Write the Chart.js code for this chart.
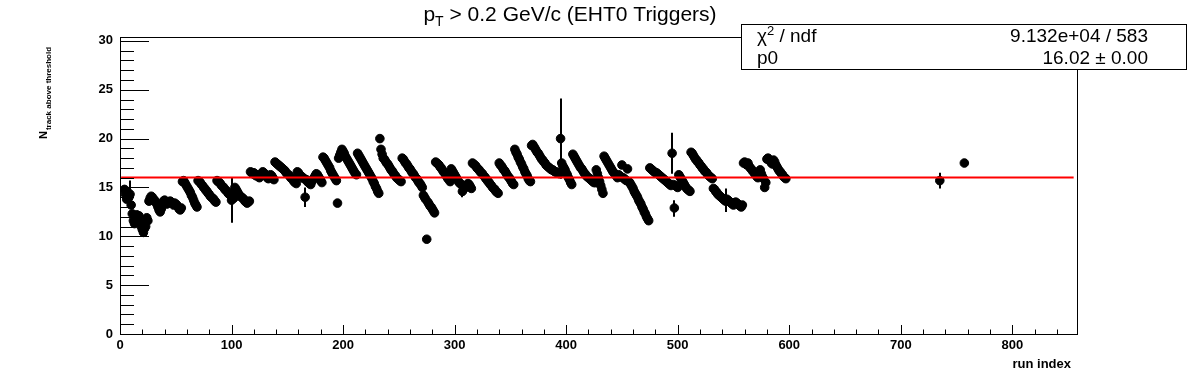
<!DOCTYPE html>
<html>
<head>
<meta charset="utf-8">
<script src="https://cdn.jsdelivr.net/npm/chart.js@4/dist/chart.umd.min.js"></script>
<style>
  html, body { margin: 0; padding: 0; background: #fff; }
  #c { display: block; }
</style>
</head>
<body>
<canvas id="c" width="1196" height="372"></canvas>
<script>
// first run index of each block of consecutive runs
const fillStart = [4, 26, 56, 70, 87, 117, 139, 159, 182, 196, 213, 233, 237, 253, 272, 283, 297,
  316, 340, 354, 369, 396, 406, 427, 434, 447, 461, 475, 501, 512, 532, 559, 578];

// N_track above threshold, one list per block
const nTrackByFill = [
  [14.8,14.3,13.8,14.5,14.0,14.3,13.2,12.3,11.6,11.3,12.0,12.2,11.8,12.1,11.4,11.0,10.7,10.4,10.8,11.0,11.9,11.6],
  [13.6,13.9,14.1,14.0,13.8,13.7,13.5,13.3,13.0,12.7,12.5,12.8,13.2,13.6,13.7,13.5,13.3,13.4,13.5,13.6,13.5,13.4,13.2,13.4,13.3,13.2,13.0,12.8,12.7,12.9],
  [15.6,15.7,15.5,15.3,15.1,14.9,14.7,14.5,14.2,14.0,13.7,13.4,13.2,13.0],
  [15.7,15.6,15.5,15.3,15.2,15.0,14.9,14.7,14.6,14.4,14.3,14.1,14.0,13.9,13.8,13.6,13.5],
  [15.7,15.6,15.5,15.4,15.2,15.1,15.0,14.8,14.7,14.6,14.4,14.3,14.2,13.7,14.0,13.9,15.0,14.8,14.6,14.4,14.2,14.1,14.0,13.9,13.8,13.6,13.5,13.4,13.5,13.6],
  [16.6,16.5,16.4,16.5,16.3,16.2,16.3,16.1,16.0,16.2,16.4,16.6,16.5,16.3,16.2,16.0,15.9,16.1,16.3,16.2,16.0,15.8],
  [17.6,17.5,17.4,17.3,17.2,17.1,17.0,16.9,16.8,16.7,16.5,16.4,16.3,16.2,16.0,15.9,15.8,15.6,15.5,15.4],
  [16.6,16.5,16.3,16.2,16.1,16.0,15.9,14.0,15.8,15.6,15.5,15.4,15.3,15.6,15.8,16.0,16.2,16.4,16.3,16.1,15.9,15.7,15.5],
  [18.1,18.0,17.8,17.6,17.4,17.2,17.0,16.7,16.5,16.3,16.1,15.9,15.7,13.4],
  [18.0,18.3,18.6,18.9,18.7,18.5,18.2,18.0,17.8,17.6,17.4,17.2,17.0,16.8,16.6,16.4,16.3],
  [18.5,18.3,18.1,17.9,17.7,17.5,17.3,17.1,16.9,16.7,16.5,16.3,16.1,15.9,15.6,15.4,15.1,14.9,14.6,14.4],
  [20.0,18.9,18.4,18.0],
  [17.9,17.7,17.5,17.4,17.2,17.0,16.8,16.7,16.5,16.3,16.2,16.0,15.9,15.8,15.7,15.6],
  [18.0,17.9,17.7,17.5,17.4,17.2,17.0,16.9,16.7,16.5,16.4,16.2,16.0,15.9,15.7,15.5,15.4,15.2,15.0],
  [14.2,14.0,13.8,9.7,13.5,13.3,13.1,13.0,12.8,12.6,12.4],
  [17.6,17.5,17.4,17.3,17.1,17.0,16.8,16.6,16.5,16.3,16.1,15.9,15.8,15.6],
  [16.9,16.7,16.5,16.3,16.1,15.9,15.7,15.5,15.4,15.3,14.6,15.2,15.1,15.0,15.2,15.4,15.3,15.1,14.9],
  [17.5,17.4,17.3,17.2,17.0,16.9,16.8,16.6,16.5,16.4,16.2,16.1,15.9,15.8,15.6,15.5,15.3,15.2,15.0,14.9,14.8,14.6,14.5,14.4],
  [17.5,17.3,17.2,17.0,16.8,16.7,16.5,16.3,16.1,16.0,15.8,15.6,15.4,15.3],
  [18.9,18.6,18.4,18.1,17.9,17.6,17.4,17.1,16.9,16.6,16.4,16.2,15.9,15.7,15.6],
  [19.3,19.4,19.2,19.0,18.8,18.6,18.5,18.3,18.1,17.9,17.8,17.6,17.5,17.3,17.2,17.1,17.0,16.9,16.8,16.8,16.7,16.6,16.6,16.5,16.5,16.4,20.0],
  [17.5,17.2,17.0,16.8,16.5,16.3,16.0,15.8,15.5,15.3],
  [18.4,18.2,18.0,17.8,17.6,17.4,17.2,17.0,16.9,16.7,16.5,16.4,16.2,16.1,16.0,15.9,15.8,15.7,15.6,15.5,15.5],
  [16.8,16.4,16.0,15.6,15.2,14.8,14.4],
  [18.2,18.0,17.8,17.6,17.4,17.2,17.0,16.8,16.6,16.5,16.3,16.2,16.0],
  [16.3,16.2,16.1,17.3,16.0,15.9,15.8,15.7,16.9,15.6,15.5,15.3,15.1,14.9],
  [14.6,14.4,14.2,14.0,13.7,13.5,13.3,13.0,12.8,12.5,12.3,12.0,11.8,11.6],
  [17.0,16.9,16.8,16.7,16.6,16.5,16.5,16.4,16.3,16.2,16.1,16.0,15.9,15.8,15.7,15.6,15.5,15.4,15.3,15.2,18.5,15.3,12.9,15.2,15.1,15.0],
  [16.3,16.1,15.9,15.7,15.5,15.3,15.1,14.9,14.8,14.7,14.6],
  [18.6,18.5,18.3,18.1,17.9,17.8,17.6,17.5,17.3,17.2,17.0,16.9,16.7,16.6,16.5,16.3,16.2,16.1,16.0,15.9],
  [14.9,14.8,14.6,14.5,14.3,14.2,14.1,14.0,13.9,13.8,13.7,13.6,13.8,13.7,13.6,13.5,13.4,13.3,13.2,13.4,13.5,13.4,13.3,13.2,13.1,13.0,13.2],
  [17.5,17.6,17.4,17.3,17.5,17.2,17.0,16.9,16.7,16.6,16.4,16.3,16.1,16.0,16.5,16.8,16.4,16.1,15.9],
  [15.0,15.5,17.9,18.0,17.8,17.7,17.5,17.4,17.8,17.6,17.3,17.1,16.9,16.7,16.6,16.4,16.3,16.1,16.0,15.9]
];

// isolated late runs
const lateRuns = [735, 757];
const lateValues = [15.7, 17.5];

// runs whose error bar sticks out of the marker
const errRuns = [9, 23, 100, 166, 307, 395, 495, 497, 543, 735];
const errLow  = [13.0, 10.0, 11.4, 13.0, 14.0, 15.9, 16.4, 12.0, 12.5, 14.9];
const errHigh = [15.7, 12.0, 16.0, 15.0, 15.2, 24.1, 20.6, 13.7, 14.9, 16.5];

// pol0 fit
const fitP0 = 16.02;
const fitRange = [1, 855];

const xTicks = [0, 100, 200, 300, 400, 500, 600, 700, 800];
const yTicks = [0, 5, 10, 15, 20, 25, 30];

const points = [];
fillStart.forEach((start, k) => {
  nTrackByFill[k].forEach((v, j) => points.push({ x: start + j, y: v }));
});
lateRuns.forEach((r, k) => points.push({ x: r, y: lateValues[k] }));

const FONT = '"Liberation Sans", Arial, sans-serif';

const rootStyle = {
  id: 'rootStyle',
  beforeDatasetsDraw(chart) {
    const { ctx, scales: { x, y } } = chart;
    ctx.save();
    ctx.strokeStyle = '#000';
    ctx.lineWidth = 2;
    errRuns.forEach((r, k) => {
      const px = Math.round(x.getPixelForValue(r));
      ctx.beginPath();
      ctx.moveTo(px, y.getPixelForValue(errLow[k]));
      ctx.lineTo(px, y.getPixelForValue(errHigh[k]));
      ctx.stroke();
    });
    ctx.restore();
  },
  afterDraw(chart) {
    const { ctx, chartArea: a, scales: { x, y } } = chart;
    ctx.save();
    ctx.strokeStyle = '#000';
    ctx.lineWidth = 1;
    ctx.strokeRect(a.left + 0.5, a.top + 0.5, a.right - a.left, a.bottom - a.top);

    // ticks drawn inside the frame, ROOT style
    ctx.beginPath();
    for (let v = 0; v <= y.max; v += 1) {
      const py = Math.round(y.getPixelForValue(v)) + 0.5;
      const len = v % 5 === 0 ? 29 : 14;
      ctx.moveTo(a.left, py); ctx.lineTo(a.left + len, py);
    }
    for (let v = 0; v <= x.max; v += 20) {
      const px = Math.round(x.getPixelForValue(v)) + 0.5;
      const len = v % 100 === 0 ? 9 : 4.5;
      ctx.moveTo(px, a.bottom); ctx.lineTo(px, a.bottom - len);
    }
    ctx.stroke();

    // title, centred
    ctx.fillStyle = '#000';
    ctx.textBaseline = 'alphabetic';
    ctx.textAlign = 'left';
    const big = '21px ' + FONT, small = '14px ' + FONT;
    const rest = ' > 0.2 GeV/c (EHT0 Triggers)';
    ctx.font = big;
    const wP = ctx.measureText('p').width, wRest = ctx.measureText(rest).width;
    ctx.font = small;
    const wT = ctx.measureText('T').width;
    let tx = 570 - (wP + wT + wRest) / 2;
    ctx.font = big;
    ctx.fillText('p', tx, 21);
    tx += wP;
    ctx.font = small;
    ctx.fillText('T', tx, 26);
    tx += wT;
    ctx.font = big;
    ctx.fillText(rest, tx, 21);

    // stats box
    ctx.fillStyle = '#fff';
    ctx.fillRect(741, 24, 445, 45);
    ctx.strokeRect(741.5, 24.5, 445, 45);
    ctx.fillStyle = '#000';
    ctx.font = '19px ' + FONT;
    ctx.fillText('\u03c7', 757, 42);
    let sx = 757 + ctx.measureText('\u03c7').width;
    ctx.font = '13px ' + FONT;
    ctx.fillText('2', sx, 35);
    sx += ctx.measureText('2').width;
    ctx.font = '19px ' + FONT;
    ctx.fillText(' / ndf', sx, 42);
    ctx.fillText('p0', 757, 64);
    ctx.textAlign = 'right';
    ctx.fillText('9.132e+04 / 583', 1148, 42);
    ctx.fillText(fitP0.toFixed(2) + ' \u00b1 0.00', 1148, 64);

    // x axis title
    ctx.font = 'bold 13px ' + FONT;
    ctx.fillText('run index', 1071, 368);

    // y axis title, rotated
    ctx.translate(47, 139);
    ctx.rotate(-Math.PI / 2);
    ctx.textAlign = 'left';
    ctx.font = 'bold 11px ' + FONT;
    ctx.fillText('N', 0, 0);
    const nw = ctx.measureText('N').width;
    ctx.font = 'bold 8px ' + FONT;
    ctx.fillText('track above threshold', nw + 1, 4);
    ctx.restore();
  }
};

new Chart(document.getElementById('c'), {
  data: {
    datasets: [
      {
        type: 'line',
        data: fitRange.map(r => ({ x: r, y: fitP0 })),
        borderColor: '#ff0000',
        borderWidth: 2,
        pointRadius: 0,
        order: 0
      },
      {
        type: 'scatter',
        data: points,
        backgroundColor: '#000',
        borderColor: '#000',
        borderWidth: 1,
        pointRadius: 4.3,
        order: 1
      }
    ]
  },
  options: {
    responsive: false,
    animation: false,
    devicePixelRatio: 1,
    layout: { padding: { top: 37, right: 119, left: 0, bottom: 0 } },
    plugins: { legend: { display: false }, tooltip: { enabled: false } },
    scales: {
      x: {
        type: 'linear', min: 0, max: 858,
        grid: { display: false, drawTicks: false },
        border: { display: false },
        ticks: { color: '#000', padding: 4, autoSkip: false, maxRotation: 0,
                 font: { family: FONT, size: 13, weight: 'bold' } },
        afterBuildTicks: s => { s.ticks = xTicks.map(v => ({ value: v })); },
        afterFit: s => { s.height = 38; }
      },
      y: {
        type: 'linear', min: 0, max: 30.4,
        grid: { display: false, drawTicks: false },
        border: { display: false },
        ticks: { color: '#000', padding: 7,
                 font: { family: FONT, size: 13, weight: 'bold' } },
        afterBuildTicks: s => { s.ticks = yTicks.map(v => ({ value: v })); },
        afterFit: s => { s.width = 120; }
      }
    }
  },
  plugins: [rootStyle]
});
</script>
</body>
</html>
